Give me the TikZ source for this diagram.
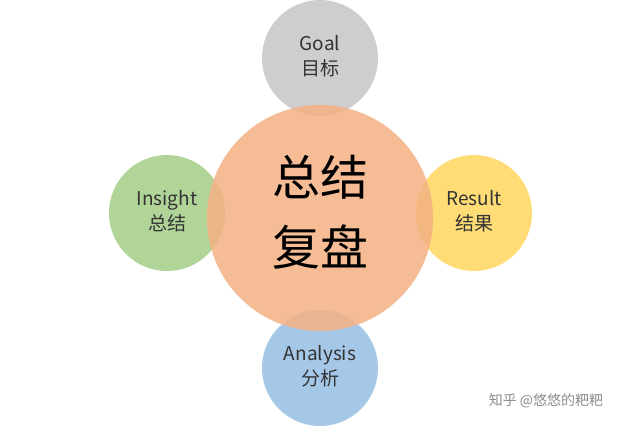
\documentclass[tikz,border=0pt]{standalone}
\usepackage{fontspec}
\setmainfont{Noto Sans CJK SC}
\definecolor{cgray}{HTML}{C9C9C9}
\definecolor{cgreen}{HTML}{A9D18E}
\definecolor{cyel}{HTML}{FFD966}
\definecolor{cblue}{HTML}{9DC3E6}
\definecolor{corg}{HTML}{F4B183}
\begin{document}
\begin{tikzpicture}[x=1pt,y=-1pt,
  bub/.style={circle,fill opacity=0.9,inner sep=0pt,minimum size=116pt},
  lbl/.style={align=center,font=\fontsize{19}{25}\selectfont,text=black!80},
]
\useasboundingbox (0,0) rectangle (640,426);
\fill[white] (0,0) rectangle (640,426);
\node[bub,fill=cgray] (goal) at (320,58) {};
\node[bub,fill=cgreen] (ins) at (167,213) {};
\node[bub,fill=cyel] (res) at (474,213) {};
\node[bub,fill=cblue] (ana) at (320,368) {};
\node[circle,minimum size=226pt,fill=corg,fill opacity=0.85,inner sep=0pt] (c) at (320,218) {};
\node[font=\fontsize{48}{70}\selectfont,align=center] (ct) at (320,212) {总结\\复盘};
\node[lbl] (gt) at (320,56) {Goal\\目标};
\node[lbl] (it) at (167,211) {Insight\\总结};
\node[lbl] (rt) at (474,211) {Result\\结果};
\node[lbl] (at) at (320,366) {Analysis\\分析};
\node[font=\fontsize{14}{16}\selectfont,text=black!45] (wm) at (546,401) {知乎 @悠悠的粑粑};
\end{tikzpicture}
\end{document}
